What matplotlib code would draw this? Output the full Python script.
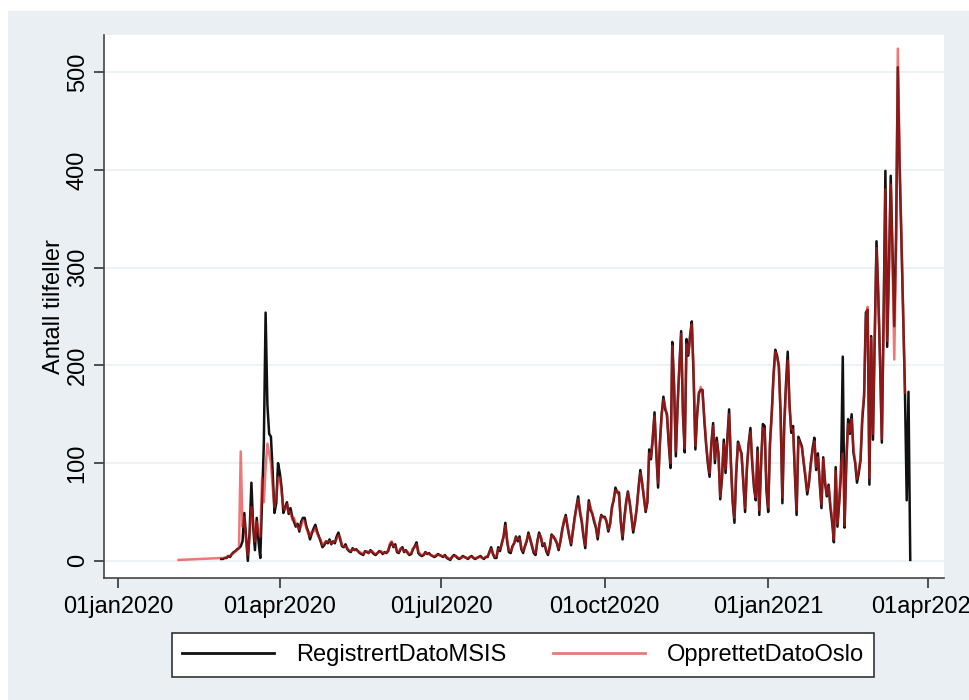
import matplotlib
matplotlib.use("Agg")
import matplotlib.pyplot as plt
from matplotlib.patches import Rectangle
import pandas as pd

plt.rcParams["font.family"] = ["Liberation Sans", "DejaVu Sans"]

# Daily case counts, Oslo. Black: registered date (MSIS); red: created date (Oslo).
start_black = "2020-02-28"
start_red = "2020-02-28"
red_first_date = "2020-02-04"
red_first_value = 1

black_values = [
    2, 2,                                                                 # Feb 2020
    3, 3, 5, 4, 7, 9, 10, 12, 13, 15, 20, 49, 25, 0, 30, 80, 35, 11, 44, 20,
    3, 60, 120, 254, 160, 130, 127, 90, 49, 59, 100,                      # Mar
    90, 75, 49, 55, 60, 48, 54, 45, 40, 35, 38, 30, 40, 44, 44, 35, 30, 22,
    28, 33, 37, 30, 25, 20, 14, 16, 20, 18, 22, 17,                       # Apr
    20, 18, 25, 29, 22, 15, 14, 17, 12, 10, 9, 13, 11, 12, 10, 8, 7, 6, 10,
    9, 8, 11, 9, 7, 6, 8, 10, 9, 7, 9, 8,                                 # May
    10, 16, 19, 14, 17, 9, 8, 12, 14, 9, 11, 8, 6, 7, 12, 15, 19, 8, 6, 5,
    6, 9, 7, 8, 6, 5, 4, 5, 7, 6,                                         # Jun
    5, 4, 6, 3, 2, 1, 4, 6, 5, 3, 2, 3, 5, 4, 3, 2, 4, 5, 3, 2, 3, 4, 5, 3,
    2, 4, 4, 9, 14, 7, 3,                                                 # Jul
    3, 14, 10, 18, 25, 39, 20, 9, 8, 15, 18, 25, 20, 25, 12, 8, 15, 20, 29,
    22, 15, 8, 6, 20, 29, 24, 15, 18, 10, 6, 14,                          # Aug
    27, 25, 22, 18, 11, 20, 32, 40, 47, 35, 25, 16, 30, 44, 55, 66, 50, 40,
    25, 13, 40, 62, 52, 48, 40, 34, 22, 38, 47, 45,                       # Sep
    45, 40, 30, 38, 55, 62, 75, 70, 70, 40, 22, 44, 60, 71, 60, 45, 29, 40,
    54, 75, 93, 80, 65, 50, 60, 114, 104, 125, 152, 110, 75,              # Oct
    120, 150, 168, 155, 150, 120, 95, 224, 180, 107, 160, 200, 235, 150,
    111, 227, 210, 230, 245, 189, 114, 150, 172, 175, 175, 145, 120, 100,
    86, 120,                                                              # Nov
    141, 100, 126, 110, 63, 85, 124, 90, 125, 155, 100, 60, 39, 90, 122,
    115, 110, 80, 50, 95, 120, 136, 100, 75, 62, 116, 47, 100, 140, 138,
    73,                                                                   # Dec
    50, 120, 151, 190, 216, 210, 199, 150, 59, 138, 180, 214, 160, 131, 138,
    90, 47, 127, 122, 117, 100, 85, 68, 80, 100, 115, 126, 93, 110, 80, 54,  # Jan 2021
    106, 80, 66, 78, 55, 40, 19, 96, 35, 60, 90, 209, 34, 100, 145, 130,
    150, 111, 100, 80, 90, 103, 145, 168, 254, 257, 78, 230,              # Feb
    124, 230, 327, 271, 203, 121, 250, 399, 219, 300, 394, 316, 240, 330,
    505, 404, 330, 250, 175, 62, 173, 1,                                  # Mar
]

red_values = [
    3, 3,                                                                 # Feb 2020
    3, 4, 5, 5, 7, 8, 10, 11, 13, 112, 35, 45, 20, 6, 25, 55, 40, 20, 40, 30,
    25, 85, 60, 95, 120, 110, 100, 75, 55, 65, 85,                        # Mar
    85, 70, 55, 52, 58, 50, 50, 42, 44, 38, 35, 32, 36, 42, 40, 33, 28, 25,
    30, 30, 34, 28, 24, 22, 16, 18, 19, 20, 20, 18,                       # Apr
    19, 20, 22, 26, 24, 16, 15, 15, 13, 11, 10, 12, 12, 11, 10, 9, 8, 7, 9,
    10, 8, 10, 10, 8, 7, 8, 9, 10, 8, 8, 9,                               # May
    11, 18, 20, 15, 15, 10, 9, 13, 12, 10, 10, 9, 7, 8, 13, 14, 17, 10, 7,
    6, 7, 8, 8, 7, 6, 5, 5, 6, 6, 6,                                      # Jun
    5, 5, 5, 4, 3, 2, 4, 5, 5, 4, 3, 3, 4, 4, 3, 3, 4, 4, 3, 3, 3, 4, 4, 3,
    3, 4, 5, 8, 12, 8, 4,                                                 # Jul
    5, 12, 12, 17, 24, 36, 22, 11, 10, 14, 19, 24, 22, 23, 14, 10, 14, 21,
    27, 23, 16, 10, 8, 19, 27, 25, 17, 17, 12, 8, 13,                     # Aug
    26, 25, 23, 19, 13, 20, 30, 42, 45, 36, 26, 18, 30, 42, 55, 63, 52, 42,
    27, 16, 38, 60, 55, 48, 42, 35, 25, 37, 46, 44,                       # Sep
    44, 41, 32, 38, 52, 64, 72, 72, 66, 42, 25, 42, 58, 70, 60, 46, 32, 40,
    55, 72, 90, 80, 66, 52, 62, 110, 106, 128, 148, 112, 80,              # Oct
    118, 148, 165, 158, 148, 122, 100, 220, 178, 112, 158, 198, 232, 155,
    115, 222, 212, 228, 242, 195, 118, 150, 170, 178, 172, 148, 122, 102,
    90, 118,                                                              # Nov
    138, 104, 122, 108, 66, 88, 120, 94, 122, 150, 102, 63, 44, 92, 120,
    118, 106, 82, 54, 92, 118, 132, 102, 78, 65, 112, 52, 98, 136, 134,
    78,                                                                   # Dec
    55, 118, 150, 188, 214, 208, 200, 148, 65, 134, 175, 205, 158, 135, 134,
    95, 52, 124, 120, 115, 102, 88, 72, 82, 98, 112, 122, 96, 106, 82, 58,  # Jan 2021
    104, 82, 68, 76, 58, 45, 22, 92, 38, 62, 98, 110, 36, 105, 140, 132,
    145, 115, 102, 84, 92, 105, 150, 170, 248, 260, 85, 228,              # Feb
    130, 225, 320, 275, 205, 125, 245, 380, 225, 295, 385, 310, 206, 320,
    524, 410, 335, 255, 172,                                              # Mar
]

x_ticks = ["2020-01-01", "2020-04-01", "2020-07-01", "2020-10-01",
           "2021-01-01", "2021-04-01"]
x_tick_labels = ["01jan2020", "01apr2020", "01jul2020", "01oct2020",
                 "01jan2021", "01apr2021"]
y_ticks = [0, 100, 200, 300, 400, 500]
series_names = ["RegistrertDatoMSIS", "OpprettetDatoOslo"]
y_title = "Antall tilfeller"

black = pd.Series(black_values,
                  index=pd.date_range(start_black, periods=len(black_values)))
red = pd.Series([red_first_value] + red_values,
                index=pd.DatetimeIndex([pd.Timestamp(red_first_date)]).append(
                    pd.date_range(start_red, periods=len(red_values))))

W, H = 970, 700
fig = plt.figure(figsize=(W / 100, H / 100), dpi=100, facecolor="white")
# graph region background, kept behind the axes
fig.patches.append(Rectangle((8 / W, 0), 1, (H - 11) / H, transform=fig.transFigure,
                             facecolor="#e9eff2", edgecolor="none", zorder=-10))

ax = fig.add_axes([104 / W, (H - 578) / H, (944 - 104) / W, (578 - 35) / H])
ax.set_facecolor("white")

ax.plot(black.index, black.values, color="#111111", lw=1.8, zorder=3,
        label=series_names[0])
ax.plot(red.index, red.values, color="#e01e1e", lw=1.8, alpha=0.6, zorder=4,
        label=series_names[1])

ax.set_xlim(pd.Timestamp("2019-12-24"), pd.Timestamp("2021-04-10"))
ax.set_ylim(-17.5, 538)

ax.set_xticks(pd.to_datetime(x_ticks))
ax.set_xticklabels(x_tick_labels, fontsize=17)
ax.set_yticks(y_ticks)
ax.set_yticklabels([str(v) for v in y_ticks], fontsize=17, rotation=90,
                   va="center")
ax.tick_params(axis="both", direction="out", length=7, width=1.2,
               color="#333333", pad=4)
ax.tick_params(axis="x", pad=6)

for s in ["top", "right"]:
    ax.spines[s].set_visible(False)
for s in ["left", "bottom"]:
    ax.spines[s].set_color("#444444")
    ax.spines[s].set_linewidth(1.2)

ax.grid(axis="y", color="#eaf1f3", lw=1.2, zorder=0)
ax.set_axisbelow(True)

ax.set_ylabel(y_title, fontsize=17, labelpad=1)

leg = fig.legend(loc="center", bbox_to_anchor=((173 + 873) / 2 / W, 1 - 655 / H),
                 ncol=2, frameon=True, fancybox=False, fontsize=17,
                 handlelength=3.9, columnspacing=2.0, handletextpad=0.9,
                 borderpad=0.45)
leg.get_frame().set_edgecolor("#333333")
leg.get_frame().set_facecolor("white")
leg.get_frame().set_alpha(1.0)
leg.get_frame().set_linewidth(1.2)
for h in leg.get_lines():
    h.set_linewidth(2.0)

fig.savefig("out.png", dpi=100, facecolor="white")
